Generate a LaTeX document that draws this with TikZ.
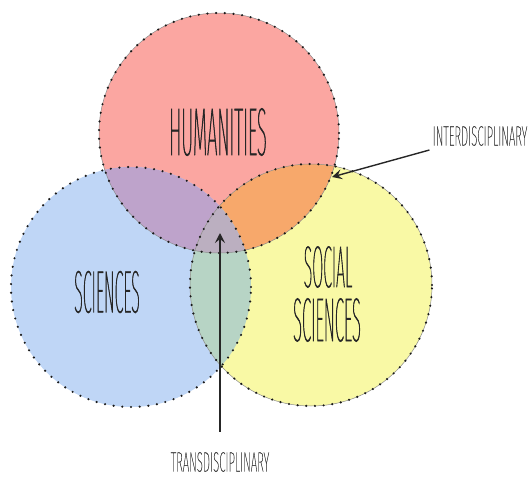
\documentclass[tikz,border=0pt]{standalone}
\usepackage{fontspec}
\usepackage{tikz}
\usetikzlibrary{arrows.meta}
\newfontfamily\handbig[FakeStretch=0.27,FakeBold=0.9]{Fira Sans Thin}
\newfontfamily\handsmall[FakeStretch=0.41,FakeBold=0.6]{Fira Sans Thin}
\definecolor{humred}{HTML}{FBA6A1}
\definecolor{sciblue}{HTML}{BFD6F6}
\definecolor{socyellow}{HTML}{F9F9A5}
\definecolor{humsci}{HTML}{BEA3CB}
\definecolor{humsoc}{HTML}{F7A86B}
\definecolor{scisoc}{HTML}{B7D4C5}
\definecolor{allthree}{HTML}{BBAFC0}
\newcommand{\rad}{120pt}

\begin{document}
\begin{tikzpicture}[x=1pt,y=-1pt,
    dots/.style={black!90, line width=2.4pt, line cap=round, dash pattern=on 0pt off 8.7pt},
    rim/.style={black!45, line width=0.5pt},
    pen/.style={-{Stealth[length=10pt,width=10pt,inset=4pt]}, line width=1.4pt, black!85},
    big/.style={text=black!85, font=\handbig\fontsize{#1}{53}\selectfont, inner sep=0pt},
    small/.style={text=black!75, font=\handsmall\fontsize{28}{30}\selectfont, inner sep=4pt}]
    \useasboundingbox (0,0) rectangle (531,479);

    \coordinate (hum) at (219,133);
    \coordinate (sci) at (131,287);
    \coordinate (soc) at (311,285);

    \fill[humred] (hum) circle (\rad);
    \fill[sciblue] (sci) circle (\rad);
    \fill[socyellow] (soc) circle (121pt);
    \begin{scope}
      \clip (hum) circle (\rad);
      \fill[humsci] (sci) circle (\rad);
      \fill[humsoc] (soc) circle (121pt);
    \end{scope}
    \begin{scope}
      \clip (sci) circle (\rad);
      \fill[scisoc] (soc) circle (121pt);
      \clip (hum) circle (\rad);
      \fill[allthree] (soc) circle (121pt);
    \end{scope}

    \draw[rim] (hum) circle (\rad);
    \draw[rim] (soc) circle (121pt);
    \draw[dots] (hum) circle (\rad);
    \draw[dots] (sci) circle (\rad);
    \draw[dots] (soc) circle (121pt);

    \node[big=68] (h) at (218,132) {HUMANITIES};
    \node[big=60] (s) at (107,292) {SCIENCES};
    \node[big=59] (ss1) at (328,267) {SOCIAL};
    \node[big=62] (ss2) at (327,320) {SCIENCES};

    \node[small] (inter) at (480,136) {INTERDISCIPLINARY};
    \node[small] (trans) at (220,462) {TRANSDISCIPLINARY};
    \coordinate (interTip) at (332,177);
    \coordinate (transTip) at (220,233);

    \draw[pen] (inter) -- (interTip);
    \draw[pen, shorten <=16pt] (trans) -- (transTip);
  \end{tikzpicture}
\end{document}
